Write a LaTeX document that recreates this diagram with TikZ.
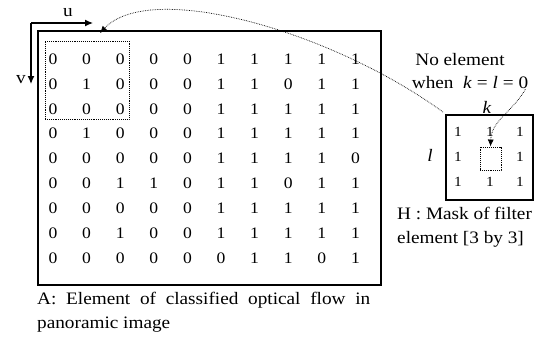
\documentclass[tikz,border=0pt]{standalone}
\usepackage{fontspec}
\setmainfont{Liberation Serif}[FakeStretch=1.1]
\usetikzlibrary{arrows.meta}

\begin{document}
\begin{tikzpicture}[x=1pt,y=-1pt,%
  every node/.style={inner sep=0pt},%
  frame/.style={draw,line width=1.2pt},%
  window/.style={draw,densely dotted,line width=0.9pt},%
  entry/.style={font=\fontsize{16}{18}\selectfont},%
  maskentry/.style={font=\fontsize{14}{16}\selectfont},%
  caption/.style={font=\fontsize{17.5}{24}\selectfont},%
  axis/.style={line width=1.2pt,-{Latex[length=8pt,width=7pt]}},%
  pointer/.style={densely dotted,line width=0.7pt,-{Latex[length=7pt,width=6pt]}}]

  \useasboundingbox (0,0) rectangle (544,354);

  % element A of the optical flow
  \node [frame,minimum width=343pt,minimum height=254pt] (A) at (209.5,158) {};
  \foreach \row [count=\i] in {{0,0,0,0,0,1,1,1,1,1},{0,1,0,0,0,1,1,0,1,1},%
      {0,0,0,0,0,1,1,1,1,1},{0,1,0,0,0,1,1,1,1,1},{0,0,0,0,0,1,1,1,1,0},%
      {0,0,1,1,0,1,1,0,1,1},{0,0,0,0,0,1,1,1,1,1},{0,0,1,0,0,1,1,1,1,1},%
      {0,0,0,0,0,0,1,1,0,1}}
    \foreach \v [count=\j] in \row
      \node [entry] (a-\i-\j) at ({53+33.6*(\j-1)},{59+24.9*(\i-1)}) {\v};
  \node [window,minimum width=84pt,minimum height=78pt] (win) at (87,80) {};

  % image axes
  \coordinate (o) at (31,23);
  \coordinate (uend) at (93,23);
  \coordinate (vend) at (31,84);
  \draw [axis] (o) -- (uend);
  \draw [axis] (o) -- (vend);
  \node [caption] (u) at (68,13) {u};
  \node [caption] (v) at (21,80) {v};

  % mask H
  \node [frame,minimum width=87pt,minimum height=85pt] (H) at (489.5,157.5) {};
  \foreach \x/\y [count=\n] in {458/132,490/132,520/132,458/157,520/157,%
      458/182,490/182,520/182}
    \node [maskentry] (h-\n) at (\x,\y) {1};
  \node [window,minimum width=21pt,minimum height=23pt] (hole) at (490.5,158.5) {};
  \node [caption] (k) at (487,107) {\textit{k}};
  \node [caption] (l) at (430,155) {\textit{l}};
  \node [caption] (note1) at (460,60) {No element};
  \node [caption] (note2) at (470,83)
    {when \ \textit{k}\;=\;\textit{l}\;=\;0};

  % pointers
  \coordinate (from) at (443,112);
  \coordinate (to) at (100,33);
  \draw [pointer] (from) .. controls (330,30) and (150,-20) .. (to);
  \draw [pointer] ([xshift=-3pt]note2.south east) to[out=240,in=88] (hole.north);

  % captions
  \node [caption,text width=333pt,align=justify,anchor=north west] (capA) at (37,292)
    {A: Element of classified optical flow in panoramic image};
  \node [caption,align=left,anchor=north west] (capH) at (397,207)
    {H : Mask of filter\\element [3 by 3]};
\end{tikzpicture}
\end{document}
